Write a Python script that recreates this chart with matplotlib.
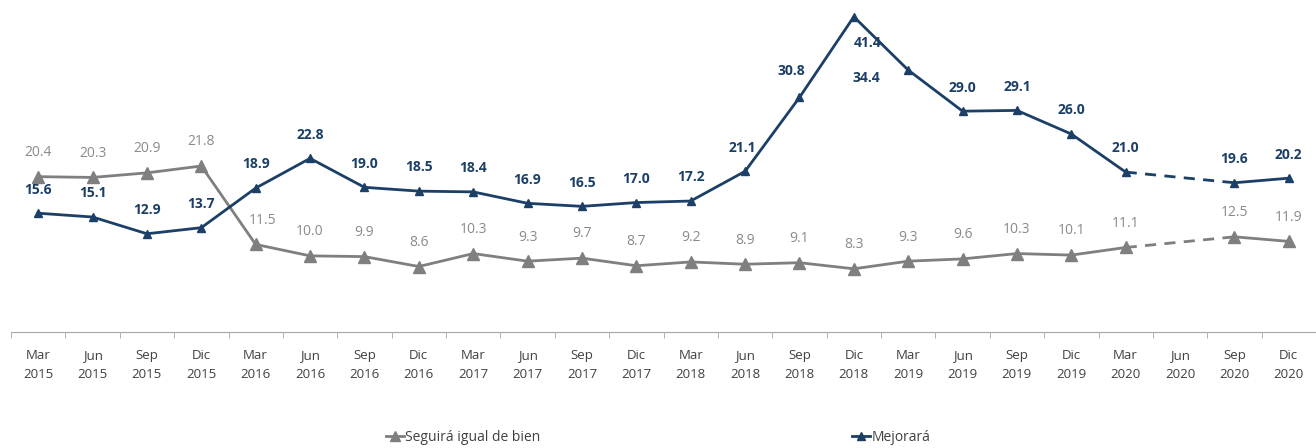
import numpy as np
import matplotlib
matplotlib.use('Agg')
from matplotlib import pyplot as plt

plt.rcParams['font.family'] = ['Open Sans', 'DejaVu Sans']

months = ['Mar', 'Jun', 'Sep', 'Dic']
years = ['2015', '2016', '2017', '2018', '2019', '2020']
labels = [m + '\n' + y for y in years for m in months]

mejorara = [15.6, 15.1, 12.9, 13.7, 18.9, 22.8, 19.0, 18.5, 18.4, 16.9, 16.5, 17.0,
            17.2, 21.1, 30.8, 41.4, 34.4, 29.0, 29.1, 26.0, 21.0, np.nan, 19.6, 20.2]
seguira = [20.4, 20.3, 20.9, 21.8, 11.5, 10.0, 9.9, 8.6, 10.3, 9.3, 9.7, 8.7,
           9.2, 8.9, 9.1, 8.3, 9.3, 9.6, 10.3, 10.1, 11.1, np.nan, 12.5, 11.9]

navy = '#1b3f66'
gray = '#7f7f7f'
gray_txt = '#8a8a8a'

x = np.arange(len(labels))
mej = np.array(mejorara)
seg = np.array(seguira)

fig = plt.figure(figsize=(13.16, 4.48), dpi=100)
ax = fig.add_axes([11 / 1316, 116 / 448, 1305 / 1316, 332 / 448])

# solid parts
ax.plot(x, seg, color=gray, lw=2, marker='^', ms=8, zorder=3)
ax.plot(x, mej, color=navy, lw=2, marker='^', ms=6, zorder=4)
# dashed gap over Jun 2020
ax.plot([20, 22], [seg[20], seg[22]], color=gray, lw=2, ls=(0, (4, 3)), zorder=2)
ax.plot([20, 22], [mej[20], mej[22]], color=navy, lw=2, ls=(0, (4, 3)), zorder=2)

# data labels
special_mej = {14: (-6, 14), 15: (10, -24), 16: (-30, -11), 13: (-2, 12)}
for i, v in enumerate(mej):
    if np.isnan(v):
        continue
    dx, dy = special_mej.get(i, (0, 12))
    ax.annotate(f'{v:.1f}', (x[i], v), xytext=(dx, dy), textcoords='offset points',
                ha='center', va='bottom', fontsize=10, fontweight='bold', color=navy)

special_seg = {4: (5, 12)}
for i, v in enumerate(seg):
    if np.isnan(v):
        continue
    dx, dy = special_seg.get(i, (0, 12))
    ax.annotate(f'{v:.1f}', (x[i], v), xytext=(dx, dy), textcoords='offset points',
                ha='center', va='bottom', fontsize=10, color=gray_txt)

ax.set_xlim(-0.5, len(labels) - 0.5)
ax.set_ylim(0, 43.6)
ax.set_xticks(x)
ax.set_xticklabels(labels, fontsize=9.5, color='#404040', linespacing=1.6)
ax.set_xticks(np.arange(-0.5, len(labels), 1), minor=True)
ax.tick_params(axis='x', which='major', length=0, pad=12)
ax.tick_params(axis='x', which='minor', length=4, color='#a6a6a6')
ax.set_yticks([])
for s in ['top', 'right', 'left']:
    ax.spines[s].set_visible(False)
ax.spines['bottom'].set_color('#a6a6a6')

h1, = ax.plot([], [], color=gray, lw=2, marker='^', ms=7)
h2, = ax.plot([], [], color=navy, lw=2, marker='^', ms=6)
fig.legend([h1, h2], ['Seguirá igual de bien', 'Mejorará'], loc='center',
           bbox_to_anchor=(0.5, 1 - 437 / 448), ncol=2, frameon=False,
           fontsize=10, handlelength=1.3, handletextpad=0.1, columnspacing=22.4,
           labelcolor='#404040')

fig.savefig('out.png', dpi=100)
